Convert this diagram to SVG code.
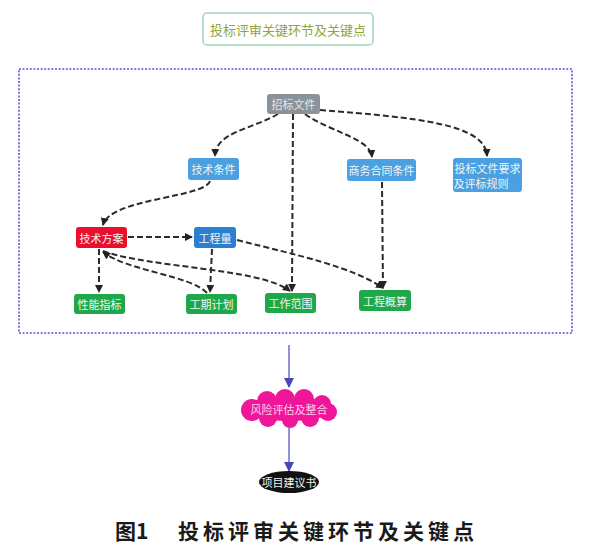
<svg xmlns="http://www.w3.org/2000/svg" width="598" height="560" viewBox="0 0 598 560">
<style>
.t{font-family:"Noto Sans CJK SC","Noto Sans",sans-serif;font-size:11px;text-anchor:middle;dominant-baseline:central}
.w{fill:#f4f4f4}
.e{fill:none;stroke:#2b2b2b;stroke-width:2;stroke-dasharray:6 3}
.b{fill:none;stroke:#4747b8;stroke-width:1.2}
.cap{font-family:"Noto Sans CJK SC",sans-serif;font-size:21px;font-weight:bold;dominant-baseline:central;fill:#1a1a1a}
</style>
<defs>
<marker id="ah" markerWidth="8" markerHeight="8" refX="7" refY="4" orient="auto" markerUnits="userSpaceOnUse">
<path d="M0,0 L8,4 L0,8 Z" fill="#222"/>
</marker>
<marker id="bh" markerWidth="10" markerHeight="10" refX="9" refY="5" orient="auto" markerUnits="userSpaceOnUse">
<path d="M0,0 L10,5 L0,10 Z" fill="#4747b8"/>
</marker>
</defs>
<rect width="598" height="560" fill="#fff"/>
<g id="title">
<rect x="203" y="13" width="170" height="32" rx="4" fill="#fff" stroke="#9ed8b6" stroke-width="1.5"/>
<text x="288" y="29.5" class="t" style="font-size:13px;fill:#8fa63a">投标评审关键环节及关键点</text>
</g>
<rect id="frame" x="19" y="69" width="553" height="264" fill="none" stroke="#5656d8" stroke-width="1.6" stroke-dasharray="2 1.6"/>
<g id="connectors">
<path class="e" d="M278,114 C250,130 216,132 215,156" marker-end="url(#ah)"/>
<path class="e" d="M293,114 L292,291" marker-end="url(#ah)"/>
<path class="e" d="M305,114 C330,132 370,138 372,157" marker-end="url(#ah)"/>
<path class="e" d="M320,110 C420,118 485,124 487,156" marker-end="url(#ah)"/>
<path class="e" d="M210,181 C205,198 110,198 103,225" marker-end="url(#ah)"/>
<path class="e" d="M382,182 L383,288" marker-end="url(#ah)"/>
<path class="e" d="M128,237 L192,237" marker-end="url(#ah)"/>
<path class="e" d="M99,249 L99,292" marker-end="url(#ah)"/>
<path class="e" d="M212,249 L210,292" marker-end="url(#ah)"/>
<path class="e" d="M237,240 C300,256 350,266 383,288" marker-end="url(#ah)"/>
<path class="e" d="M103,251 C150,268 260,268 290,291" marker-end="url(#ah)"/>
<path class="e" d="M207,293 C190,275 130,272 103,252" marker-end="url(#ah)"/>
<path class="b" d="M289,345 L289,387" marker-end="url(#bh)"/>
<path class="b" d="M289,428 L289,471" marker-end="url(#bh)"/>
</g>
<g id="n_zbwj">
<rect x="267" y="94" width="53" height="20" rx="3" fill="#8a9399"/>
<text x="293.5" y="104" class="t" style="fill:#e6e6e6">招标文件</text>
</g>
<g id="n_jstj">
<rect x="188" y="158" width="51" height="22" rx="3" fill="#4aa0e0"/>
<text x="213.5" y="169" class="t w">技术条件</text>
</g>
<g id="n_swht">
<rect x="347" y="159" width="69" height="22" rx="3" fill="#4aa0e0"/>
<text x="381.5" y="170" class="t w">商务合同条件</text>
</g>
<g id="n_tbyq">
<rect x="453" y="158" width="69" height="34" rx="3" fill="#4aa0e0"/>
<text x="487.5" y="168" class="t w">投标文件要求</text>
<text x="481" y="183" class="t w">及评标规则</text>
</g>
<g id="n_jsfa">
<rect x="76" y="227" width="51" height="21" rx="3" fill="#e8102c"/>
<text x="101.5" y="237.5" class="t w">技术方案</text>
</g>
<g id="n_gcl">
<rect x="194" y="227" width="42" height="21" rx="3" fill="#2a7fd0"/>
<text x="215" y="237.5" class="t w">工程量</text>
</g>
<g id="n_xnzb">
<rect x="74" y="294" width="51" height="20" rx="3" fill="#1fa84a"/>
<text x="99.5" y="304" class="t w">性能指标</text>
</g>
<g id="n_gqjh">
<rect x="186" y="294" width="51" height="20" rx="3" fill="#1fa84a"/>
<text x="211.5" y="304" class="t w">工期计划</text>
</g>
<g id="n_gzfw">
<rect x="265" y="293" width="51" height="20" rx="3" fill="#1fa84a"/>
<text x="290.5" y="303" class="t w">工作范围</text>
</g>
<g id="n_gcgs">
<rect x="359" y="290" width="52" height="21" rx="3" fill="#1fa84a"/>
<text x="385" y="300.5" class="t w">工程概算</text>
</g>
<g id="n_fxpg" fill="#f0169a">
<ellipse cx="289" cy="409" rx="46" ry="12"/>
<circle cx="252" cy="410" r="11"/>
<circle cx="267" cy="401" r="10"/>
<circle cx="285" cy="399" r="10"/>
<circle cx="304" cy="399" r="10"/>
<circle cx="322" cy="404" r="9"/>
<circle cx="328" cy="412" r="9"/>
<circle cx="310" cy="418" r="9"/>
<circle cx="290" cy="420" r="8"/>
<circle cx="268" cy="418" r="9"/>
<text x="289" y="409" class="t" style="fill:#ffd0ec">风险评估及整合</text>
</g>
<g id="n_xmjy">
<ellipse cx="289" cy="482" rx="30" ry="11" fill="#111"/>
<text x="289" y="482" class="t" style="fill:#f4f4f4">项目建议书</text>
</g>
<text x="115" y="530" class="cap">图1</text>
<text x="178" y="530" class="cap" style="letter-spacing:4px">投标评审关键环节及关键点</text>
</svg>
